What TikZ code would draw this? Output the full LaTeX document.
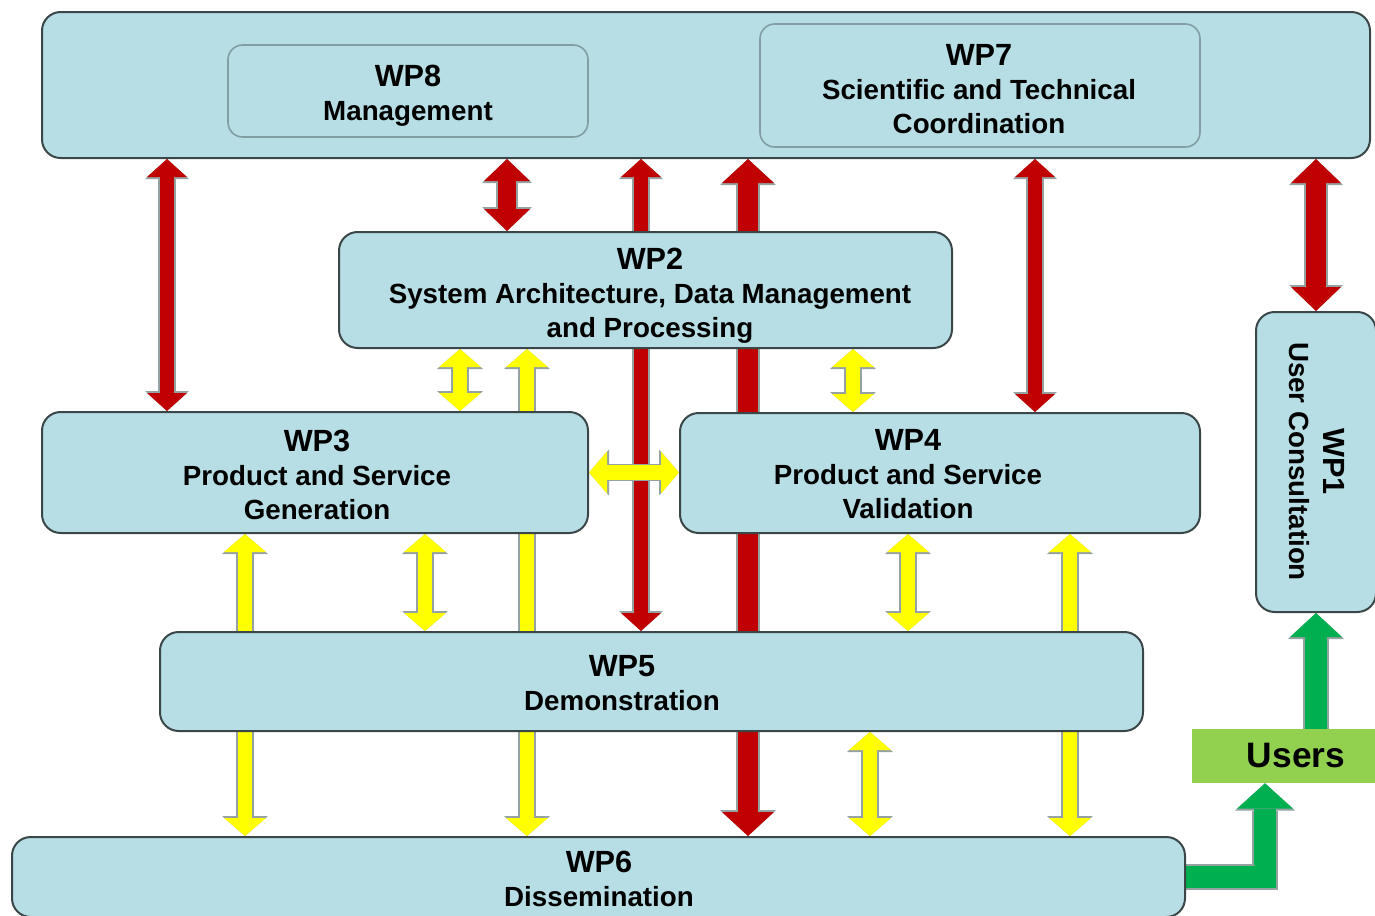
\documentclass[tikz,border=0pt]{standalone}
\usepackage{fontspec}
\setmainfont{Liberation Sans}
\usetikzlibrary{arrows.meta}

\definecolor{boxfill}{RGB}{183,222,228}
\definecolor{boxline}{RGB}{58,70,72}
\definecolor{innerline}{RGB}{128,158,163}
\definecolor{wpred}{RGB}{192,0,0}
\definecolor{wpyellow}{RGB}{255,255,0}
\definecolor{wpgreen}{RGB}{0,176,80}
\definecolor{usersfill}{RGB}{146,208,80}
\definecolor{linkgray}{RGB}{150,162,162}

\newcommand{\wpfont}{\bfseries\fontsize{20.8}{25.5}\selectfont}
\newcommand{\wpnum}[1]{{\fontsize{23}{25.5}\selectfont #1}}

\pgfdeclarelayer{bg}
\pgfsetlayers{bg,main}

\tikzset{
  wpbox/.style={draw=boxline, fill=boxfill, line width=1.5pt, rounded corners=14pt, inner sep=0pt},
  subbox/.style={wpbox, draw=innerline, line width=1.2pt, rounded corners=11pt},
  wptext/.style={align=center, font=\wpfont, inner sep=0pt},
  % colour, shaft, head width, head length (pt)
  link/.style n args={4}{
    /utils/exec={\pgfmathsetmacro\lkS{#2+2.4}\pgfmathsetmacro\lkW{#3+3}\pgfmathsetmacro\lkL{#4+1.5}},
    draw=#1, line width=#2pt,
    arrows={Triangle[width=#3pt,length=#4pt,line width=0pt]-Triangle[width=#3pt,length=#4pt,line width=0pt]},
    preaction={draw=linkgray, line width=\lkS pt,
      arrows={Triangle[width=\lkW pt,length=\lkL pt,line width=0pt]-Triangle[width=\lkW pt,length=\lkL pt,line width=0pt]}}},
  linkone/.style n args={4}{
    /utils/exec={\pgfmathsetmacro\lkS{#2+2.4}\pgfmathsetmacro\lkW{#3+3}\pgfmathsetmacro\lkL{#4+1.5}},
    draw=#1, line width=#2pt, line join=miter,
    arrows={-Triangle[width=#3pt,length=#4pt,line width=0pt]},
    preaction={draw=linkgray, line width=\lkS pt,
      arrows={-Triangle[width=\lkW pt,length=\lkL pt,line width=0pt]}}},
}

\begin{document}
\begin{tikzpicture}[x=0.75pt,y=0.75pt,yscale=-1,xscale=1]
\useasboundingbox (0,0) rectangle (1375,915);

%Shape: top band with WP8 and WP7
\node[wpbox, minimum width=996pt, minimum height=109.5pt] (top) at (706,85) {};
\node[subbox, minimum width=270pt, minimum height=69pt] (wp8) at (408,91) {};
\node[subbox, minimum width=330pt, minimum height=92.25pt] (wp7) at (980,85.5) {};

%Shape: work packages
\node[wpbox, minimum width=459.75pt, minimum height=87pt] (wp2) at (645.5,290) {};
\node[wpbox, minimum width=409.5pt, minimum height=90.75pt] (wp3) at (315,472.5) {};
\node[wpbox, minimum width=390pt, minimum height=90pt] (wp4) at (940,473) {};
\node[wpbox, minimum width=737.25pt, minimum height=74.25pt] (wp5) at (651.5,681.5) {};
\node[wpbox, minimum width=879.75pt, minimum height=60pt] (wp6) at (598.5,877) {};
\node[wpbox, minimum width=90pt, minimum height=225pt] (wp1) at (1316,462) {};
\node[fill=usersfill, minimum width=156pt, minimum height=40.5pt, font=\bfseries\fontsize{26.5}{30}\selectfont] (users) at (1296,756) {Users};

% Text Node
\node[wptext] (wp8txt) at (408,96) {\wpnum{WP8}\\Management};
% Text Node
\node[wptext] (wp7txt) at (979,89) {\wpnum{WP7}\\Scientific and Technical\\Coordination};
% Text Node
\node[wptext] (wp2txt) at (650,295.5) {\wpnum{WP2}\\System Architecture, Data Management\\and Processing};
% Text Node
\node[wptext] (wp3txt) at (317,474.5) {\wpnum{WP3}\\Product and Service\\Generation};
% Text Node
\node[wptext] (wp4txt) at (908,474) {\wpnum{WP4}\\Product and Service\\Validation};
% Text Node
\node[wptext] (wp5txt) at (622,683.5) {\wpnum{WP5}\\Demonstration};
% Text Node
\node[wptext] (wp6txt) at (599,879) {\wpnum{WP6}\\Dissemination};
% Text Node
\node[wptext, rotate=-90] (wp1txt) at (1316.5,461.5) {\wpnum{WP1}\\User Consultation};

\begin{pgfonlayer}{bg}
% red links
\draw[link={wpred}{10.5}{30}{13.5}] (167,0 |- top.south) -- (167,0 |- wp3.north);
\draw[link={wpred}{13.5}{34.5}{16.5}] (507,0 |- top.south) -- (507,0 |- wp2.north);
\draw[link={wpred}{10.5}{30}{13.5}] (641,0 |- top.south) -- (641,0 |- wp5.north);
\draw[link={wpred}{15}{39}{18}] (748,0 |- top.south) -- (748,0 |- wp6.north);
\draw[link={wpred}{10.5}{30}{13.5}] (1035,0 |- top.south) -- (1035,0 |- wp4.north);
\draw[link={wpred}{15}{37.5}{18}] (wp1.north |- top.south) -- (wp1.north);
% yellow links
\draw[link={wpyellow}{11}{31.5}{13.5}] (460,0 |- wp2.south) -- (460,0 |- wp3.north);
\draw[link={wpyellow}{11}{31.5}{13.5}] (527,0 |- wp2.south) -- (527,0 |- wp6.north);
\draw[link={wpyellow}{11}{31.5}{13.5}] (853,0 |- wp2.south) -- (853,0 |- wp4.north);
\draw[link={wpyellow}{11}{31.5}{13.5}] (wp3.east) -- (wp3.east -| wp4.west);
\draw[link={wpyellow}{11}{31.5}{13.5}] (245,0 |- wp3.south) -- (245,0 |- wp6.north);
\draw[link={wpyellow}{11}{31.5}{13.5}] (425,0 |- wp3.south) -- (425,0 |- wp5.north);
\draw[link={wpyellow}{11}{31.5}{13.5}] (908,0 |- wp4.south) -- (908,0 |- wp5.north);
\draw[link={wpyellow}{11}{31.5}{13.5}] (1070,0 |- wp4.south) -- (1070,0 |- wp6.north);
\draw[link={wpyellow}{11}{31.5}{13.5}] (870,0 |- wp5.south) -- (870,0 |- wp6.north);
% green links
\draw[linkone={wpgreen}{16.5}{42}{19}] (wp6.east) -| (1265,0 |- users.south);
\draw[linkone={wpgreen}{16.5}{39}{18}] (users.north -| wp1.south) -- (wp1.south);
\end{pgfonlayer}

\end{tikzpicture}
\end{document}
